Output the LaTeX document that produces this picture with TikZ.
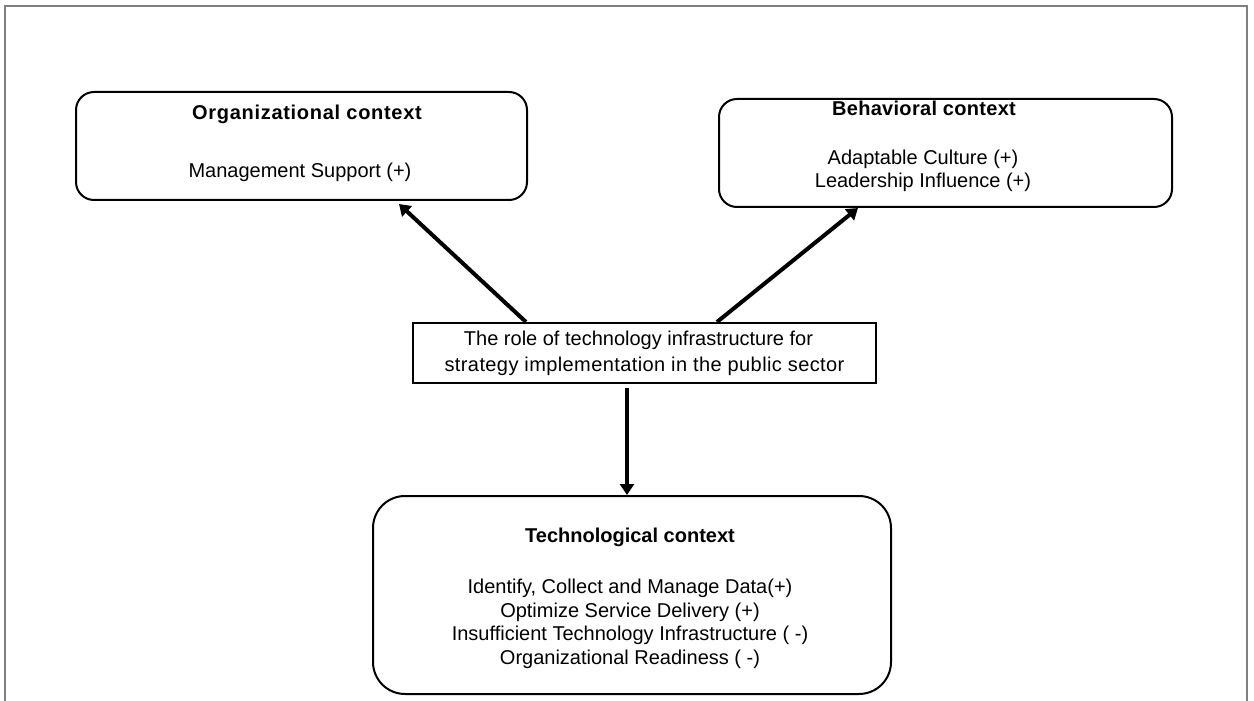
\documentclass[tikz,border=0pt]{standalone}
\usepackage{fontspec}
\setmainfont{Liberation Sans}
\usepackage{tikz}
\usetikzlibrary{shapes,arrows,arrows.meta}
\usetikzlibrary{positioning}

\newcommand\ctxfont{\fontsize{10}{11.8}\selectfont}

\tikzset{
    ctxbox/.style={draw, line width=1pt, rounded corners=9pt, inner sep=0pt},
    ctxtitle/.style={anchor=base, font=\ctxfont\bfseries},
    ctxitems/.style={align=center, inner sep=0pt},
    link/.style={line width=2pt, -{Triangle[length=5.5pt,width=7pt]}}
}

\begin{document}
\begin{tikzpicture}[x=0.5pt,y=-0.5pt,every node/.style={font=\ctxfont}]
    \useasboundingbox (0,0) rectangle (1254,701);
    % page frame, open at the bottom
    \draw[gray, line width=1pt] (5,701) -- (5,6) -- (1247,6) -- (1247,701);

    % the boxes
    \node[ctxbox, minimum width=225.5pt, minimum height=54pt] (org) at (301.5,146) {};
    \node[ctxbox, minimum width=226.5pt, minimum height=54pt] (beh) at (945.5,153) {};
    \node[draw, line width=1pt, minimum width=231.5pt, minimum height=30pt,
          align=center, inner sep=0pt, font=\fontsize{10}{13}\selectfont] (role) at (644.5,353)
          {The role of technology infrastructure for\hspace*{6pt}\\
           \addfontfeature{LetterSpace=2}strategy implementation in the public sector};
    \node[ctxbox, rounded corners=16pt, minimum width=259pt, minimum height=99pt] (tech) at (632,595) {};

    % texts in the boxes
    \node[ctxtitle, font=\ctxfont\bfseries\addfontfeature{LetterSpace=3.5}] (orgtitle) at (307,120) {Organizational context};
    \node[ctxitems, anchor=base] (orgitems) at (300,177) {Management Support (+)};
    \node[ctxtitle, font=\ctxfont\bfseries\addfontfeature{LetterSpace=1.5}] (behtitle) at (924,116) {Behavioral context};
    \node[ctxitems] (behitems) at (923,171) {Adaptable Culture (+)\\Leadership Influence (+)};
    \node[ctxtitle] (techtitle) at (630,542) {Technological context};
    \node[ctxitems] (techitems) at (630,624)
        {Identify, Collect and Manage Data(+)\\Optimize Service Delivery (+)\\
         Insufficient Technology Infrastructure ( -)\\Organizational Readiness ( -)};

    % arrows
    \draw[link] ([xshift=57pt]role.north west) to ([xshift=162pt,yshift=-1.5pt]org.south west);
    \draw[link] ([xshift=152.5pt]role.north west) to ([xshift=70pt]beh.south west);
    \draw[link] ([xshift=-8.75pt,yshift=-2pt]role.south) to ([xshift=-8.75pt]role.south |- tech.north);
\end{tikzpicture}
\end{document}
